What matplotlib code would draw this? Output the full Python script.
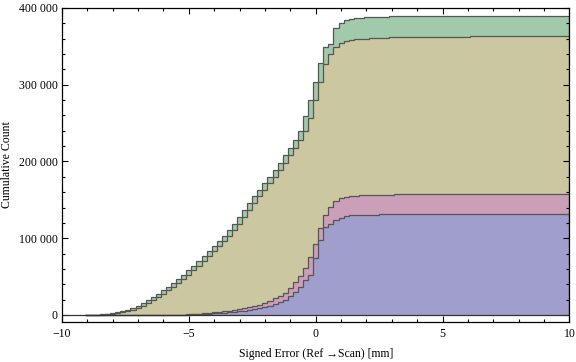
import matplotlib.pyplot as plt
import numpy as np

# cumulative counts (thousands) per 0.2 mm bin, centres -9.0 ... 3.0,
# followed by three wide bins [3.1,5.1], [5.1,6.1], [6.1,10]
green_k = [0, 0.2, 0.5, 1.0, 1.6, 2.5, 3.6, 5.0, 7.0, 9.5,
           12, 15, 19, 23.5, 28, 32.5, 37, 42, 47, 52,
           58, 64, 70.5, 77, 83.5, 90, 96.5, 103, 111, 119,
           128, 137, 146, 155, 163, 172, 180, 189, 198, 208,
           218, 228, 240, 259, 280, 304, 328.7, 349, 353, 374,
           380, 384, 385, 386.5, 386.5, 388, 388, 388, 388, 388,
           389, 389, 390, 390]
tan_k = [0, 0, 0.3, 0.6, 1.0, 1.7, 2.5, 3.6, 5.0, 7.0,
         9.5, 12, 15, 19, 23.5, 28, 32.5, 37, 42, 47,
         52, 58, 64, 70.5, 77, 83.5, 90, 96.5, 103, 111,
         119, 128, 137, 146, 155, 163, 172, 180, 189, 198,
         208, 218, 228, 240, 256, 280, 304, 326.6, 339.7, 348.8,
         354, 357, 358.7, 359.4, 359.8, 360.2, 360.4, 360.5, 360.5, 360.5,
         361.8, 361.8, 361.8, 363.5]
pink_k = [0, 0, 0, 0, 0, 0, 0, 0, 0, 0,
          0, 0, 0, 0, 0, 0.1, 0.15, 0.2, 0.3, 0.5,
          0.8, 1.2, 1.7, 2.2, 2.7, 3.3, 4.0, 4.7, 5.5, 6.3,
          7.5, 8.7, 10.0, 11.5, 13.5, 16, 18.5, 21.5, 25, 29,
          35, 43, 51, 61, 76, 93, 113, 130, 141, 148,
          152, 153.4, 154.7, 154.7, 156, 156, 156, 156, 156, 156,
          156, 157.6, 157.6, 157.6]
blue_k = [0, 0, 0, 0, 0, 0, 0, 0, 0, 0,
          0, 0, 0, 0, 0, 0, 0, 0.1, 0.2, 0.4,
          0.6, 0.8, 1.1, 1.4, 1.7, 2.0, 2.4, 2.9, 3.4, 4.0,
          4.8, 5.6, 6.5, 7.5, 9, 10.5, 12, 14, 16.5, 20,
          25, 30, 37, 45, 52, 74, 98, 114, 118.6, 123.8,
          126.8, 128.6, 129.9, 129.9, 129.9, 129.9, 129.9, 129.9, 131.6, 131.6,
          131.6, 131.6, 131.6, 131.6]

edges = list(np.round(np.arange(-9.1, 3.11, 0.2), 1)) + [5.1, 6.1, 10.0]

series = [(green_k, '#a0caa9'), (tan_k, '#cbc7a0'),
          (pink_k, '#cc9fb8'), (blue_k, '#a09ecc')]

serif = ['Liberation Serif', 'DejaVu Serif']

fig = plt.figure(figsize=(5.76, 3.62), dpi=100)
ax = fig.add_axes([0.1076, 0.1105, 0.881, 0.8675])

for vals, col in series:
    ax.stairs(np.array(vals) * 1000, edges, baseline=0, fill=True,
              facecolor=col, edgecolor='#555555', linewidth=0.9)

ax.axhline(0, color='#333333', lw=0.9)

ax.set_xlim(-10, 10)
ax.set_ylim(-9120, 400000)

ax.set_xticks([-10, -5, 0, 5, 10])
ax.set_xticklabels(['\u221210', '\u22125', '0', '5', '10'])
ax.set_xticks(np.arange(-10, 11, 1), minor=True)
yt = [0, 100000, 200000, 300000, 400000]
ax.set_yticks(yt)
ax.set_yticklabels(['0', '100 000', '200 000', '300 000', '400 000'])
ax.set_yticks(np.arange(0, 400001, 20000), minor=True)

ax.tick_params(which='both', direction='in', top=True, right=True,
               width=0.8, labelsize=8.5)
ax.tick_params(which='major', length=4, pad=3)
ax.tick_params(axis='x', which='major', pad=4)
ax.tick_params(which='minor', length=2.5)
for lab in ax.get_xticklabels() + ax.get_yticklabels():
    lab.set_family(serif)

for s in ax.spines.values():
    s.set_linewidth(0.9)

ax.set_xlabel('Signed Error (Ref \u2192Scan) [mm]', family=serif, fontsize=8.5, labelpad=6)
ax.set_ylabel('Cumulative Count', family=serif, fontsize=8.5, labelpad=4)

fig.savefig('out.png', dpi=100)
